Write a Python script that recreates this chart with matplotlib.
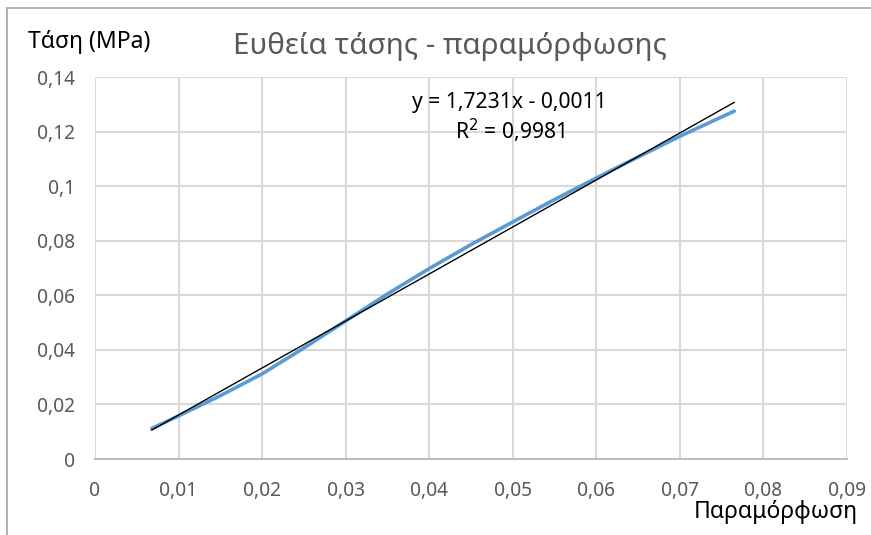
import numpy as np
import matplotlib
matplotlib.use("Agg")
import matplotlib.pyplot as plt
from matplotlib.ticker import FuncFormatter

plt.rcParams['font.family'] = ['Noto Sans', 'DejaVu Sans']

# strain / stress values
strain = [0.0068, 0.010, 0.015, 0.020, 0.025, 0.030, 0.035, 0.040,
          0.045, 0.050, 0.055, 0.060, 0.065, 0.070, 0.0765]
stress = [0.0112, 0.0158, 0.0232, 0.0312, 0.0407, 0.0506, 0.0605, 0.0698,
          0.0786, 0.0869, 0.0951, 0.1030, 0.1107, 0.1183, 0.1275]

# linear trendline shown on the chart
slope = 1.7231
intercept = -0.0011
trend_label = "y = 1,7231x - 0,0011\nR$^2$ = 0,9981"

title = "Ευθεία τάσης - παραμόρφωσης"
ylabel = "Τάση (MPa)"
xlabel = "Παραμόρφωση"

fig = plt.figure(figsize=(8.71, 5.35), dpi=100)
ax = fig.add_axes([0.109, 0.142, 0.8635, 0.714])

ax.plot(strain, stress, color='#5b9bd5', lw=2.6, solid_capstyle='round', zorder=3)
xt = np.array([strain[0], strain[-1]])
ax.plot(xt, slope * xt + intercept, color='black', lw=1.0, zorder=4)

ax.set_xlim(0, 0.09)
ax.set_ylim(0, 0.14)
ax.set_xticks(np.arange(0, 0.0901, 0.01))
ax.set_yticks(np.arange(0, 0.1401, 0.02))

def comma(v, pos):
    s = ('%.2f' % v).rstrip('0').rstrip('.')
    return s.replace('.', ',')

ax.xaxis.set_major_formatter(FuncFormatter(comma))
ax.yaxis.set_major_formatter(FuncFormatter(comma))
ax.tick_params(length=0, labelsize=13.8, colors='#595959')
ax.tick_params(axis='x', pad=16)
ax.tick_params(axis='y', pad=14)
ax.grid(True, color='#d9d9d9', lw=1.5)
ax.set_axisbelow(True)
for side in ['top', 'right', 'left']:
    ax.spines[side].set_visible(False)
ax.spines['bottom'].set_color('#bfbfbf')
ax.spines['bottom'].set_linewidth(1.5)

ax.text(0.0496, 0.1248, trend_label, ha='center', va='center',
        fontsize=15.2, color='black', linespacing=1.15)

fig.text(0.517, 0.914, title, ha='center', va='center', fontsize=21.3, color='#595959')
fig.text(0.032, 0.921, ylabel, ha='left', va='center', fontsize=16.5, color='black')
fig.text(0.985, 0.043, xlabel, ha='right', va='center', fontsize=16.5, color='black')

# outer chart border (top and left visible)
fig.add_artist(plt.Line2D([0.008, 1.0], [0.985, 0.985], transform=fig.transFigure,
                          color='#a6a6a6', lw=1.2))
fig.add_artist(plt.Line2D([0.008, 0.008], [0.0, 0.985], transform=fig.transFigure,
                          color='#a6a6a6', lw=1.2))

fig.savefig('out.png', dpi=100)
